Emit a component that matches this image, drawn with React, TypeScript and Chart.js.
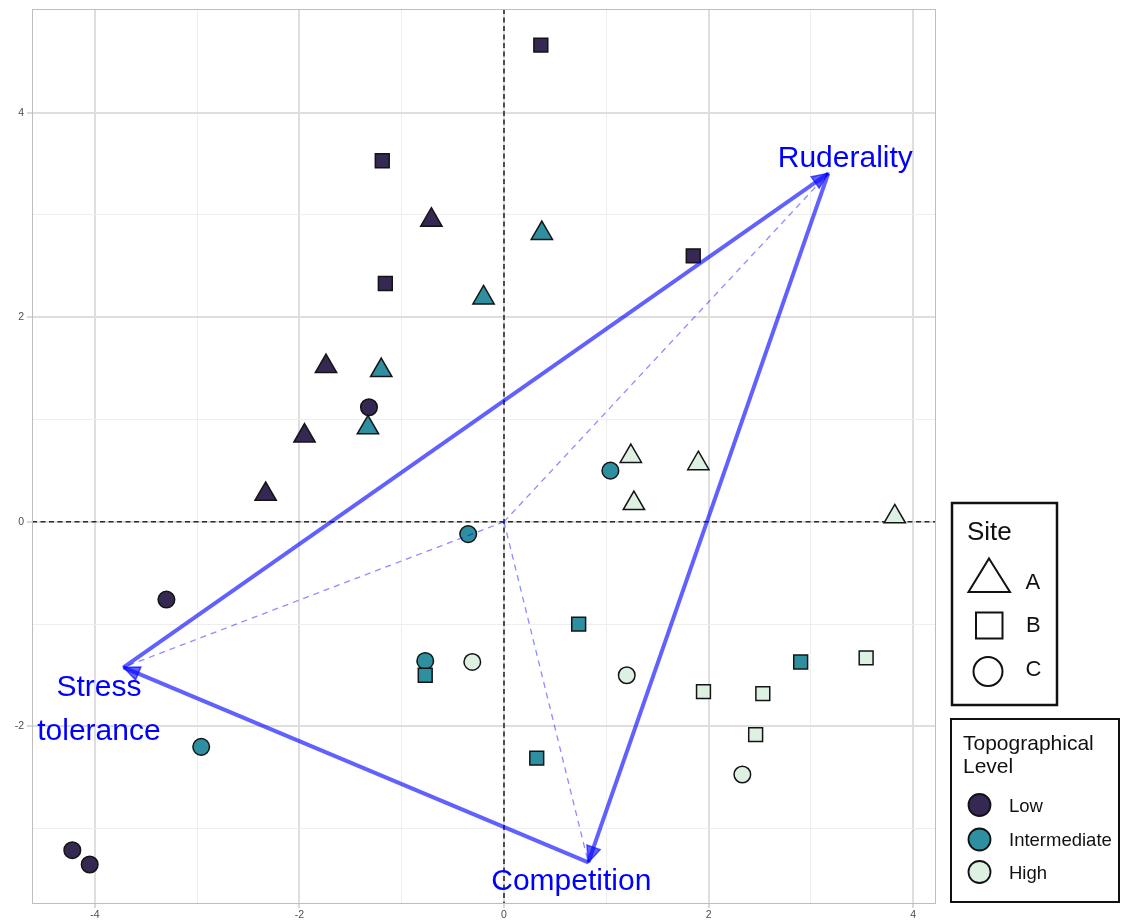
import React, { useEffect, useRef } from 'react';
import { Chart, registerables } from 'chart.js';
Chart.register(...registerables);

// ---------- data ----------
const X_MIN = -4.614;
const X_MAX = 4.223;
const Y_MIN = -3.736;
const Y_MAX = 5.013;
const X_TICKS = [-4, -3, -2, -1, 0, 1, 2, 3, 4];
const Y_TICKS = [-3, -2, -1, 0, 1, 2, 3, 4];

const LEVELS = ['Low', 'Intermediate', 'High'];
const SITES = ['A', 'B', 'C'];

const SITE_A_X = [-0.71, -1.74, -1.95, -2.33, 0.37, -0.2, -1.2, -1.33, 1.24, 1.9, 1.27, 3.82];
const SITE_A_Y = [2.95, 1.52, 0.84, 0.27, 2.82, 2.19, 1.48, 0.92, 0.64, 0.57, 0.18, 0.05];
const SITE_A_LEVEL = ['Low', 'Low', 'Low', 'Low', 'Intermediate', 'Intermediate', 'Intermediate', 'Intermediate', 'High', 'High', 'High', 'High'];

const SITE_B_X = [0.36, -1.19, 1.85, -1.16, 0.73, -0.77, 2.9, 0.32, 1.95, 2.53, 3.54, 2.46];
const SITE_B_Y = [4.66, 3.53, 2.6, 2.33, -1.0, -1.5, -1.37, -2.31, -1.66, -1.68, -1.33, -2.08];
const SITE_B_LEVEL = ['Low', 'Low', 'Low', 'Low', 'Intermediate', 'Intermediate', 'Intermediate', 'Intermediate', 'High', 'High', 'High', 'High'];

const SITE_C_X = [-1.32, -3.3, -4.22, -4.05, 1.04, -0.35, -0.77, -2.96, -0.31, 1.2, 2.33];
const SITE_C_Y = [1.12, -0.76, -3.21, -3.35, 0.5, -0.12, -1.36, -2.2, -1.37, -1.5, -2.47];
const SITE_C_LEVEL = ['Low', 'Low', 'Low', 'Low', 'Intermediate', 'Intermediate', 'Intermediate', 'Intermediate', 'High', 'High', 'High'];

const CSR_NAMES = ['Ruderality', 'Stress tolerance', 'Competition'];
const CSR_X = [3.17, -3.72, 0.824];
const CSR_Y = [3.407, -1.422, -3.33];
// solid edges: [from, to], arrow head at "to"
const CSR_EDGES = [[1, 0], [0, 2], [2, 1]];

// ---------- styles ----------
const FONT = "'Liberation Sans', Arial, Helvetica, sans-serif";
const LEVEL_COLORS: Record<string, string> = { Low: '#352852', Intermediate: '#2d8f9f', High: '#ddf1e3' };
const SITE_SHAPES: Record<string, string> = { A: 'triangle', B: 'rect', C: 'circle' };
const SITE_RADII: Record<string, number> = { A: 12.3, B: 9.8, C: 8.3 };
const SOLID = 'rgba(0,0,255,0.62)';
const DASHED = 'rgba(0,0,255,0.45)';
const LABEL_OFFSETS: Record<string, { dx: number; dy: number[] }> = {
  Ruderality: { dx: 17, dy: [-6] },
  'Stress tolerance': { dx: -24.5, dy: [29, 73] },
  Competition: { dx: -17, dy: [28] },
};

const siteData: Record<string, { x: number[]; y: number[]; lv: string[] }> = {
  A: { x: SITE_A_X, y: SITE_A_Y, lv: SITE_A_LEVEL },
  B: { x: SITE_B_X, y: SITE_B_Y, lv: SITE_B_LEVEL },
  C: { x: SITE_C_X, y: SITE_C_Y, lv: SITE_C_LEVEL },
};

const overlay = {
  id: 'overlay',
  beforeDatasetsDraw(chart: any) {
    const { ctx, chartArea: a, scales } = chart;
    const x0 = scales.x.getPixelForValue(0);
    const y0 = scales.y.getPixelForValue(0);
    ctx.save();
    ctx.strokeStyle = '#2a2a2a';
    ctx.lineWidth = 1.6;
    ctx.setLineDash([5, 3.5]);
    ctx.beginPath();
    ctx.moveTo(x0, a.top);
    ctx.lineTo(x0, a.bottom);
    ctx.moveTo(a.left, y0);
    ctx.lineTo(a.right, y0);
    ctx.stroke();
    ctx.restore();
  },
  afterDatasetsDraw(chart: any) {
    const { ctx, scales } = chart;
    const px = (i: number) => scales.x.getPixelForValue(CSR_X[i]);
    const py = (i: number) => scales.y.getPixelForValue(CSR_Y[i]);
    ctx.save();
    CSR_EDGES.forEach(([f, t]) => {
      const fx = px(f), fy = py(f), tx = px(t), ty = py(t);
      const len = Math.hypot(tx - fx, ty - fy);
      const ux = (tx - fx) / len, uy = (ty - fy) / len;
      const L = 16, W = 7;
      const bx = tx - ux * L, by = ty - uy * L;
      ctx.fillStyle = SOLID;
      ctx.strokeStyle = SOLID;
      ctx.lineWidth = 1.5;
      ctx.lineJoin = 'miter';
      ctx.beginPath();
      ctx.moveTo(tx, ty);
      ctx.lineTo(bx - uy * W, by + ux * W);
      ctx.lineTo(bx + uy * W, by - ux * W);
      ctx.closePath();
      ctx.fill();
      ctx.stroke();
    });
    ctx.fillStyle = '#0000ff';
    ctx.font = `30px ${FONT}`;
    ctx.textAlign = 'center';
    ctx.textBaseline = 'alphabetic';
    CSR_NAMES.forEach((name, i) => {
      const off = LABEL_OFFSETS[name];
      const words = name === 'Stress tolerance' ? ['Stress', 'tolerance'] : [name];
      words.forEach((w, k) => ctx.fillText(w, px(i) + off.dx, py(i) + off.dy[k]));
    });
    ctx.restore();
  },
  afterDraw(chart: any) {
    const { ctx, chartArea: a } = chart;
    ctx.save();
    ctx.strokeStyle = '#bdbdbd';
    ctx.lineWidth = 1;
    ctx.strokeRect(a.left + 0.5, a.top + 0.5, a.right - a.left - 1, a.bottom - a.top - 1);

    // Site legend
    ctx.fillStyle = '#ffffff';
    ctx.fillRect(951, 502, 106, 204);
    ctx.strokeStyle = '#111';
    ctx.lineWidth = 2.5;
    ctx.strokeRect(952, 503, 105, 202);
    ctx.fillStyle = '#111';
    ctx.textAlign = 'left';
    ctx.textBaseline = 'alphabetic';
    ctx.font = `26px ${FONT}`;
    ctx.fillText('Site', 967, 540);
    ctx.lineWidth = 2;
    ctx.strokeStyle = '#111';
    ctx.beginPath();
    ctx.moveTo(989, 558.5);
    ctx.lineTo(1010, 592);
    ctx.lineTo(968.5, 592);
    ctx.closePath();
    ctx.stroke();
    ctx.strokeRect(976, 612.5, 26.5, 26);
    ctx.beginPath();
    ctx.arc(988, 671.5, 14.5, 0, Math.PI * 2);
    ctx.stroke();
    ctx.font = `22px ${FONT}`;
    ctx.fillText(SITES[0], 1025.5, 589);
    ctx.fillText(SITES[1], 1026, 632);
    ctx.fillText(SITES[2], 1025.5, 676);

    // Topographical legend
    ctx.fillStyle = '#ffffff';
    ctx.fillRect(951, 718, 169, 186);
    ctx.strokeStyle = '#111';
    ctx.lineWidth = 2;
    ctx.strokeRect(951, 719, 168, 183);
    ctx.fillStyle = '#111';
    ctx.font = `21px ${FONT}`;
    ctx.fillText('Topographical', 963, 750);
    ctx.fillText('Level', 963, 773);
    const ys = [805, 839.5, 872];
    LEVELS.forEach((lv, i) => {
      ctx.beginPath();
      ctx.arc(979.5, ys[i], 11, 0, Math.PI * 2);
      ctx.fillStyle = LEVEL_COLORS[lv];
      ctx.fill();
      ctx.lineWidth = 1.8;
      ctx.strokeStyle = '#111';
      ctx.stroke();
      ctx.fillStyle = '#111';
      ctx.font = `18.5px ${FONT}`;
      ctx.fillText(lv, 1009, ys[i] + 6.5);
    });
    ctx.restore();
  },
};

export default function App() {
  const ref = useRef<HTMLCanvasElement>(null);
  useEffect(() => {
    const canvas = ref.current;
    if (!canvas) return;
    const datasets: any[] = [];
    CSR_EDGES.forEach(([f, t], k) => {
      datasets.push({
        label: 'edge' + k,
        data: [{ x: CSR_X[f], y: CSR_Y[f] }, { x: CSR_X[t], y: CSR_Y[t] }],
        showLine: true,
        borderColor: SOLID,
        borderWidth: 4,
        pointRadius: 0,
        borderCapStyle: 'butt',
        order: -2,
      });
    });
    CSR_NAMES.forEach((n, i) => {
      datasets.push({
        label: 'ray ' + n,
        data: [{ x: 0, y: 0 }, { x: CSR_X[i], y: CSR_Y[i] }],
        showLine: true,
        borderColor: DASHED,
        borderWidth: 1.3,
        borderDash: [6, 5],
        pointRadius: 0,
        order: -1,
      });
    });
    SITES.forEach((s) => {
      const d = siteData[s];
      LEVELS.forEach((lv) => {
        const pts: { x: number; y: number }[] = [];
        d.x.forEach((xv, i) => {
          if (d.lv[i] === lv) pts.push({ x: xv, y: d.y[i] });
        });
        datasets.push({
          label: `${s} ${lv}`,
          data: pts,
          pointStyle: SITE_SHAPES[s],
          pointRadius: SITE_RADII[s],
          backgroundColor: LEVEL_COLORS[lv],
          borderColor: '#141414',
          borderWidth: 1.5,
          showLine: false,
          order: 0,
        });
      });
    });

    const tickFont = { family: FONT, size: 10.5 };
    const chart = new Chart(canvas, {
      type: 'scatter',
      data: { datasets },
      plugins: [overlay],
      options: {
        responsive: false,
        animation: false,
        events: [],
        layout: { autoPadding: false, padding: { top: 9, right: 190, bottom: 0, left: 0 } },
        plugins: { legend: { display: false }, tooltip: { enabled: false } },
        scales: {
          x: {
            type: 'linear',
            min: X_MIN,
            max: X_MAX,
            afterBuildTicks: (s: any) => {
              s.ticks = X_TICKS.map((v) => ({ value: v }));
            },
            afterFit: (s: any) => {
              s.height = 19;
              s.paddingLeft = 0;
              s.paddingRight = 0;
            },
            border: { display: false },
            grid: {
              color: (c: any) => (c.tick && c.tick.value % 2 === 0 ? '#dedede' : '#eeeeee'),
              lineWidth: (c: any) => (c.tick && c.tick.value % 2 === 0 ? 2 : 1),
              tickColor: (c: any) => (c.tick && c.tick.value % 2 === 0 ? '#b3b3b3' : 'rgba(0,0,0,0)'),
              tickWidth: 1,
              tickLength: 4,
            },
            ticks: {
              font: tickFont,
              color: '#4d4d4d',
              padding: 1,
              maxRotation: 0,
              autoSkip: false,
              callback: (v: any) => (Number(v) % 2 === 0 ? String(v) : ''),
            },
          },
          y: {
            type: 'linear',
            min: Y_MIN,
            max: Y_MAX,
            afterBuildTicks: (s: any) => {
              s.ticks = Y_TICKS.map((v) => ({ value: v }));
            },
            afterFit: (s: any) => {
              s.width = 32;
              s.paddingTop = 0;
              s.paddingBottom = 0;
            },
            border: { display: false },
            grid: {
              color: (c: any) => (c.tick && c.tick.value % 2 === 0 ? '#dedede' : '#eeeeee'),
              lineWidth: (c: any) => (c.tick && c.tick.value % 2 === 0 ? 2 : 1),
              tickColor: (c: any) => (c.tick && c.tick.value % 2 === 0 ? '#b3b3b3' : 'rgba(0,0,0,0)'),
              tickWidth: 1,
              tickLength: 5,
            },
            ticks: {
              font: tickFont,
              color: '#4d4d4d',
              padding: 3,
              autoSkip: false,
              callback: (v: any) => (Number(v) % 2 === 0 ? String(v) : ''),
            },
          },
        },
      } as any,
    });
    return () => chart.destroy();
  }, []);

  return (
    <div style={{ position: 'absolute', left: 0, top: 0, width: 1126, height: 923, background: '#fff' }}>
      <canvas ref={ref} width={1126} height={923} style={{ display: 'block' }} />
    </div>
  );
}
